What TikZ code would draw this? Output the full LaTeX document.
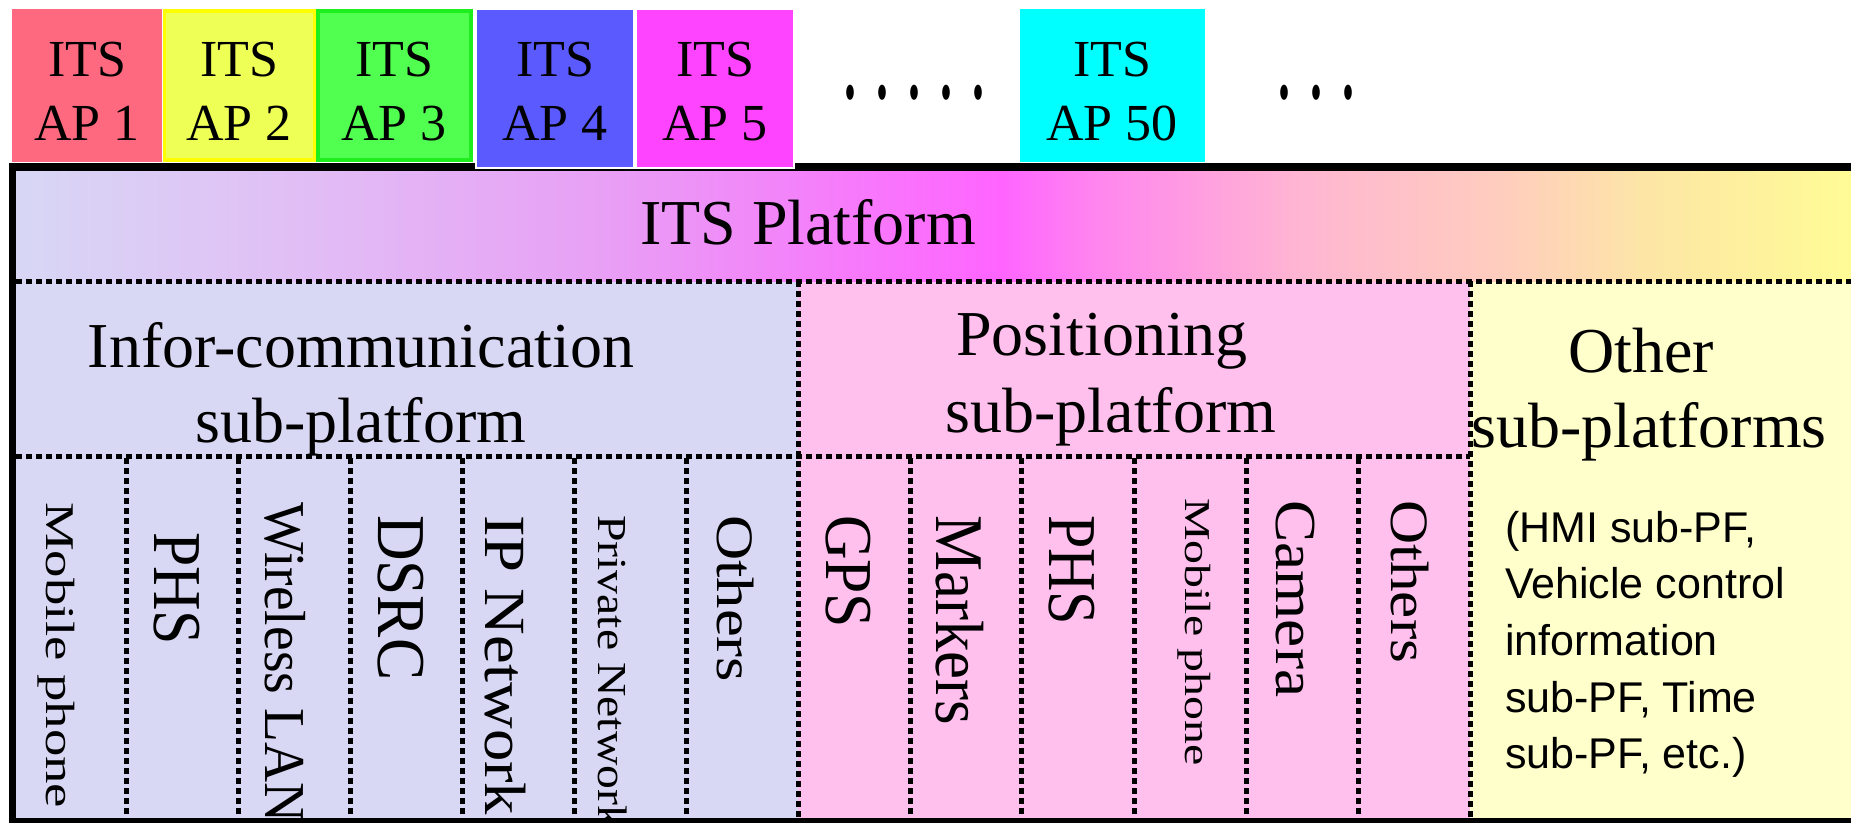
\documentclass[tikz,border=0pt]{standalone}
\usepackage{fontspec}
\setmainfont{Liberation Serif}
\newfontfamily\sansf{Liberation Sans}
\definecolor{apone}{RGB}{255,105,128}
\definecolor{aptwo}{RGB}{238,255,85}
\definecolor{aptwob}{RGB}{255,255,0}
\definecolor{apthree}{RGB}{80,255,80}
\definecolor{apthreeb}{RGB}{30,238,30}
\definecolor{apfour}{RGB}{90,90,255}
\definecolor{apfive}{RGB}{255,68,255}
\definecolor{apfifty}{RGB}{0,255,255}
\definecolor{infofill}{RGB}{216,216,244}
\definecolor{posfill}{RGB}{255,192,238}
\definecolor{othfill}{RGB}{255,255,204}
\definecolor{ga}{RGB}{215,215,245}
\definecolor{gb}{RGB}{225,190,245}
\definecolor{gc}{RGB}{232,160,245}
\definecolor{gd}{RGB}{255,100,255}
\definecolor{ge}{RGB}{255,135,238}
\definecolor{gf}{RGB}{255,182,210}
\definecolor{gg}{RGB}{255,205,190}
\definecolor{gh}{RGB}{253,230,165}
\definecolor{gi}{RGB}{255,252,150}
\pgfdeclarehorizontalshading{bandshade}{100bp}{color(0bp)=(ga); color(25bp)=(ga); color(32.74bp)=(gb); color(40.91bp)=(gc); color(51.81bp)=(gd); color(54.54bp)=(ge); color(59.99bp)=(gf); color(65.44bp)=(gg); color(69.52bp)=(gh); color(75bp)=(gi); color(100bp)=(gi)}
\newcommand\colt[6]{\node[coltext] (#1) at (#2,#3) {\resizebox*{#4pt}{#5pt}{#6}};}
\begin{document}
\begin{tikzpicture}[x=1pt,y=-1pt,
  apbox/.style={inner sep=0pt, outer sep=0pt},
  aptext/.style={font=\fontsize{52}{62}\selectfont, inner sep=0pt, anchor=base},
  bigtext/.style={font=\fontsize{64}{77}\selectfont, inner sep=0pt, anchor=base},
  hmitext/.style={font=\sansf\fontsize{43}{52}\selectfont, inner sep=0pt, anchor=base west},
  dottext/.style={font=\fontsize{64}{77}\selectfont, inner sep=0pt, anchor=base west},
  dotline/.style={line width=5pt, dash pattern=on 5.5pt off 4.5pt},
  coltext/.style={rotate=-90, anchor=west, inner sep=0pt},
  frameline/.style={line width=7.5pt}]
\useasboundingbox (0,0) rectangle (1851,822);
\clip (0,0) rectangle (1851,822);
\fill[white] (0,0) rectangle (1851,822);
% lower areas
\fill[infofill] (16,281) rectangle (798,822);
\fill[posfill] (798,281) rectangle (1470,822);
\fill[othfill] (1470,281) rectangle (1860,822);
% platform band
\shade[shading=bandshade] (16,170) rectangle (1851,281);
% grid coordinates
\coordinate (hl1) at (16,281);
\coordinate (hr1) at (1851,281);
\coordinate (hl2) at (16,456);
\coordinate (hr2) at (1470,456);
\draw[dotline] (hl1) -- (hr1);
\draw[dotline] (hl2) -- (hr2);
\draw[dotline] (798,281) -- (798,818);
\draw[dotline] (1470,281) -- (1470,818);
\foreach \xx in {126,238,350,462,574,686,910,1021,1134,1246,1358}
  \draw[dotline] (\xx,458) -- (\xx,818);
% headings
\node[bigtext] (itsp) at (808,244) {ITS Platform};
\node[bigtext] (info1) at (361,367) {Infor-communication};
\node[bigtext] (info2) at (361,442) {sub-platform};
\node[bigtext] (pos1) at (1102,355) {Positioning};
\node[bigtext] (pos2) at (1111,432) {sub-platform};
\node[bigtext] (oth1) at (1641,372) {Other};
\node[bigtext] (oth2) at (1649,447) {sub-platforms};
\node[hmitext] (hmi1) at (1505,542) {(HMI sub-PF,};
\node[hmitext] (hmi2) at (1505,598) {Vehicle control};
\node[hmitext] (hmi3) at (1505,655) {information};
\node[hmitext] (hmi4) at (1505,712) {sub-PF, Time};
\node[hmitext] (hmi5) at (1505,768) {sub-PF, etc.)};
% column texts
\colt{c1}{56}{502}{306}{37}{Mobile phone}
\colt{c2}{177}{532}{113}{46}{PHS}
\colt{c3}{285}{502}{320}{41}{Wireless LAN}
\colt{c4}{401}{515}{165}{46}{DSRC}
\colt{c5}{505}{515}{300}{41}{IP Network}
\colt{c6}{613}{515}{314}{29}{Private Network}
\colt{c7}{735}{515}{167}{37}{Others}
\colt{c8}{848}{515}{113}{45}{GPS}
\colt{c9}{960}{515}{210}{48}{Markers}
\colt{c10}{1072}{515}{110}{46}{PHS}
\colt{c11}{1194}{498}{267}{33}{Mobile phone}
\colt{c12}{1295}{500}{197}{39}{Camera}
\colt{c13}{1410}{500}{163}{38}{Others}
% frame
\draw[frameline] (12.5,167) rectangle (1870,821.5);
% AP boxes
\node[apbox, fill=apone, minimum width=150pt, minimum height=153pt] (ap1) at (87,85.5) {};
\node[apbox, fill=aptwo, draw=aptwob, line width=3.5pt, minimum width=150pt, minimum height=149pt] (ap2) at (239.5,85.5) {};
\node[apbox, fill=apthree, draw=apthreeb, line width=3.5pt, minimum width=153pt, minimum height=149pt] (ap3) at (394.5,85.5) {};
\node[apbox, fill=apfour, draw=white, line width=1.5pt, minimum width=158pt, minimum height=159pt] (ap4) at (555,88.5) {};
\node[apbox, fill=apfive, draw=white, line width=1.5pt, minimum width=158pt, minimum height=159pt] (ap5) at (715,88.5) {};
\node[apbox, fill=apfifty, minimum width=185pt, minimum height=153pt] (ap50) at (1112,85.5) {};
\foreach \nm/\cx/\lab in {ap1/87/1, ap2/239/2, ap3/394/3, ap4/555/4, ap5/715/5, ap50/1112/50}{
  \node[aptext] (\nm a) at (\cx,76) {ITS};
  \node[aptext] (\nm b) at (\cx,140) {AP \lab};
}
% dots
\node[dottext] (dotsa) at (842,98) {\scalebox{1}[2]{.\hspace{0.25em}.\hspace{0.25em}.\hspace{0.25em}.\hspace{0.25em}.}};
\node[dottext] (dotsb) at (1276,98) {\scalebox{1}[2]{.\hspace{0.25em}.\hspace{0.25em}.}};
\end{tikzpicture}
\end{document}
